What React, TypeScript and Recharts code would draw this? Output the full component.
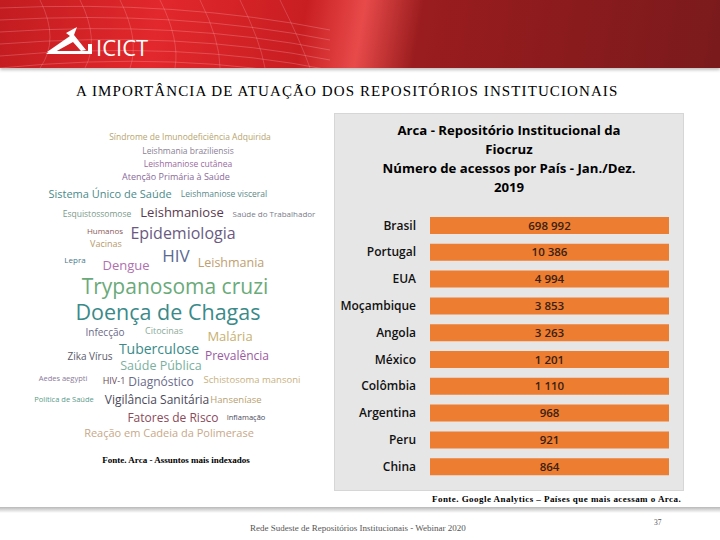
import React from 'react';
import { BarChart, Bar, XAxis, YAxis, LabelList } from 'recharts';

const paises = ['Brasil', 'Portugal', 'EUA', 'Moçambique', 'Angola', 'México', 'Colômbia', 'Argentina', 'Peru', 'China'];
const acessos = [698992, 10386, 4994, 3853, 3263, 1201, 1110, 968, 921, 864];

const tituloGrafico = [
  'Arca - Repositório Institucional da',
  'Fiocruz',
  'Número de acessos por País - Jan./Dez.',
  '2019',
];

// word cloud on the left (picture in the original slide)
const nuvem = [
  { t: 'Síndrome de Imunodeficiência Adquirida', x: 190, y: 138, s: 8.5, c: '#b8a46e' },
  { t: 'Leishmania braziliensis', x: 188, y: 152, s: 8.5, c: '#8a7f96' },
  { t: 'Leishmaniose cutânea', x: 188, y: 165, s: 8.5, c: '#9a6aa0' },
  { t: 'Atenção Primária à Saúde', x: 176, y: 178, s: 9, c: '#8a6a9a' },
  { t: 'Sistema Único de Saúde', x: 110, y: 195, s: 11, c: '#4a8a8a' },
  { t: 'Leishmaniose visceral', x: 224, y: 195, s: 8.5, c: '#5a8a8a' },
  { t: 'Esquistossomose', x: 97, y: 215, s: 8.5, c: '#7a9a8a' },
  { t: 'Leishmaniose', x: 182, y: 214, s: 13, c: '#5a3a50' },
  { t: 'Saúde do Trabalhador', x: 274, y: 215, s: 8, c: '#7a7a8a' },
  { t: 'Humanos', x: 105, y: 232, s: 8, c: '#8a5a5a' },
  { t: 'Epidemiologia', x: 183, y: 235, s: 16, c: '#6a5a82' },
  { t: 'Vacinas', x: 106, y: 245, s: 9, c: '#b89a6a' },
  { t: 'Lepra', x: 75, y: 261, s: 8, c: '#4a7a8a' },
  { t: 'Dengue', x: 126, y: 267, s: 13, c: '#b070b0' },
  { t: 'HIV', x: 176, y: 257, s: 17, c: '#5a6a92' },
  { t: 'Leishmania', x: 231, y: 264, s: 12.5, c: '#c0a070' },
  { t: 'Trypanosoma cruzi', x: 175, y: 288, s: 21, c: '#6aaa7a' },
  { t: 'Doença de Chagas', x: 168, y: 314, s: 21.5, c: '#3a8a8a' },
  { t: 'Infecção', x: 105, y: 333, s: 10, c: '#6a6a8a' },
  { t: 'Citocinas', x: 164, y: 332, s: 9, c: '#8aaa9a' },
  { t: 'Malária', x: 230, y: 338, s: 13, c: '#c8b070' },
  { t: 'Zika Vírus', x: 90, y: 357, s: 10, c: '#5a5a6a' },
  { t: 'Tuberculose', x: 159, y: 350, s: 14, c: '#3a8a8a' },
  { t: 'Prevalência', x: 237, y: 357, s: 12, c: '#9a5aa0' },
  { t: 'Saúde Pública', x: 161, y: 367, s: 12.5, c: '#7ab0a0' },
  { t: 'Aedes aegypti', x: 63, y: 379, s: 7.5, c: '#8a7a9a' },
  { t: 'HIV-1', x: 114, y: 382, s: 9, c: '#6a4a5a' },
  { t: 'Diagnóstico', x: 161, y: 383, s: 12, c: '#6a6a8a' },
  { t: 'Schistosoma mansoni', x: 252, y: 380, s: 9.5, c: '#c8b080' },
  { t: 'Política de Saúde', x: 64, y: 400, s: 7.5, c: '#5a9a8a' },
  { t: 'Vigilância Sanitária', x: 157, y: 401, s: 12, c: '#4a4a5a' },
  { t: 'Hanseníase', x: 236, y: 400, s: 9.5, c: '#b8a070' },
  { t: 'Fatores de Risco', x: 173, y: 419, s: 12, c: '#8a4a5a' },
  { t: 'Inflamação', x: 246, y: 418, s: 7.5, c: '#4a4a5a' },
  { t: 'Reação em Cadeia da Polimerase', x: 169, y: 434, s: 11, c: '#c8a888' },
];

const dados = paises.map((pais, i) => ({ pais, acessos: acessos[i] }));

const formatarNumero = (v: any) => Number(v).toLocaleString('en-US').replace(/,/g, ' ');

const Cabecalho = () => (
  <div
    style={{
      position: 'absolute',
      left: 0,
      top: 0,
      width: 720,
      height: 68,
      background:
        'linear-gradient(100deg, #c21c20 0%, #e2282c 22%, #c81e22 42%, #e84a4a 50%, #9a1c1e 58%, #7a1a1c 100%)',
      boxShadow: '0 2px 3px rgba(0,0,0,0.25)',
      overflow: 'hidden',
    }}
  >
    <svg width={720} height={68} style={{ position: 'absolute', left: 0, top: 0 }}>
      {[0, 1, 2, 3, 4, 5].map((i) => (
        <path
          key={'h' + i}
          d={`M0 ${8 + i * 12} Q 180 ${i * 10} 330 ${30 + i * 10}`}
          stroke="rgba(255,200,200,0.25)"
          fill="none"
          strokeWidth={1}
        />
      ))}
      {[0, 1, 2, 3, 4, 5, 6].map((i) => (
        <path
          key={'v' + i}
          d={`M${40 + i * 40} 0 Q ${60 + i * 40} 40 ${40 + i * 45} 68`}
          stroke="rgba(255,200,200,0.22)"
          fill="none"
          strokeWidth={1}
        />
      ))}
      {/* logo */}
      <path d="M47 52 L70 36 L66 33 L77 27 L74 35 L86 50 L81 51 L73 42 L55 52 Z" fill="#ffffff" />
      <path d="M46 54 L92 54 L92 44 L88 44 L88 51 L50 51 Z" fill="#ffffff" />
      <text x={96} y={56} fill="#ffffff" fontFamily="'Open Sans', sans-serif" fontSize={22}>
        ICICT
      </text>
    </svg>
  </div>
);

const App = () => {
  return (
    <div
      style={{
        position: 'absolute',
        left: 0,
        top: 0,
        width: 720,
        height: 540,
        background: '#ffffff',
        overflow: 'hidden',
        fontFamily: "'Liberation Serif', serif",
      }}
    >
      <Cabecalho />
      <div style={{ position: 'absolute', left: 76, top: 83, fontSize: 15, letterSpacing: 1.1, color: '#000' }}>
        A IMPORTÂNCIA DE ATUAÇÃO DOS REPOSITÓRIOS INSTITUCIONAIS
      </div>

      <svg width={330} height={475} style={{ position: 'absolute', left: 0, top: 0 }}>
        {nuvem.map((w) => (
          <text
            key={w.t}
            x={w.x}
            y={w.y}
            textAnchor="middle"
            dominantBaseline="middle"
            fontFamily="'Open Sans', sans-serif"
            fontSize={w.s}
            fill={w.c}
          >
            {w.t}
          </text>
        ))}
        <text x={176} y={463} textAnchor="middle" fontFamily="'Liberation Serif', serif" fontSize={9} fontWeight="bold" fill="#000">
          Fonte. Arca - Assuntos mais indexados
        </text>
      </svg>

      <div
        style={{
          position: 'absolute',
          left: 334,
          top: 113,
          width: 348,
          height: 376,
          background: '#e6e6e6',
          border: '1px solid #d6d6d6',
        }}
      />
      <div
        style={{
          position: 'absolute',
          left: 334,
          top: 121,
          width: 350,
          textAlign: 'center',
          fontFamily: "'Open Sans', sans-serif",
          fontWeight: 'bold',
          fontSize: 13.2,
          lineHeight: '19px',
          color: '#000',
        }}
      >
        {tituloGrafico.map((l) => (
          <div key={l}>{l}</div>
        ))}
      </div>

      <div style={{ position: 'absolute', left: 334, top: 206 }}>
        <BarChart
          width={350}
          height={274}
          data={dados}
          layout="vertical"
          stackOffset="expand"
          margin={{ top: 6, right: 15, bottom: 0, left: 0 }}
          barSize={17}
        >
          <XAxis type="number" hide domain={[0, 1]} />
          <YAxis
            type="category"
            dataKey="pais"
            width={96}
            axisLine={false}
            tickLine={false}
            tickMargin={8}
            tick={{ fill: '#111', fontSize: 12, fontWeight: 600, fontFamily: "'Open Sans', sans-serif" }}
          />
          <Bar dataKey="acessos" stackId="a" fill="#ed7d31" isAnimationActive={false}>
            <LabelList
              dataKey="acessos"
              position="center"
              formatter={formatarNumero}
              fill="#3a2010"
              fontSize={11.5}
              fontWeight={600}
              fontFamily="'Open Sans', sans-serif"
            />
          </Bar>
        </BarChart>
      </div>

      <div
        style={{
          position: 'absolute',
          left: 432,
          top: 494,
          fontSize: 9,
          letterSpacing: 0.45,
          fontWeight: 'bold',
          color: '#000',
          whiteSpace: 'nowrap',
        }}
      >
        Fonte. Google Analytics – Países que mais acessam o Arca.
      </div>

      <div
        style={{
          position: 'absolute',
          left: 0,
          top: 507,
          width: 720,
          height: 6,
          background: 'linear-gradient(to bottom, #b8b8b8, #ffffff)',
        }}
      />
      <div style={{ position: 'absolute', left: 250, top: 523, fontSize: 9, color: '#555', whiteSpace: 'nowrap' }}>
        Rede Sudeste de Repositórios Institucionais - Webinar 2020
      </div>
      <div style={{ position: 'absolute', left: 654, top: 518, fontSize: 7.5, color: '#555' }}>37</div>
    </div>
  );
};

export default App;
